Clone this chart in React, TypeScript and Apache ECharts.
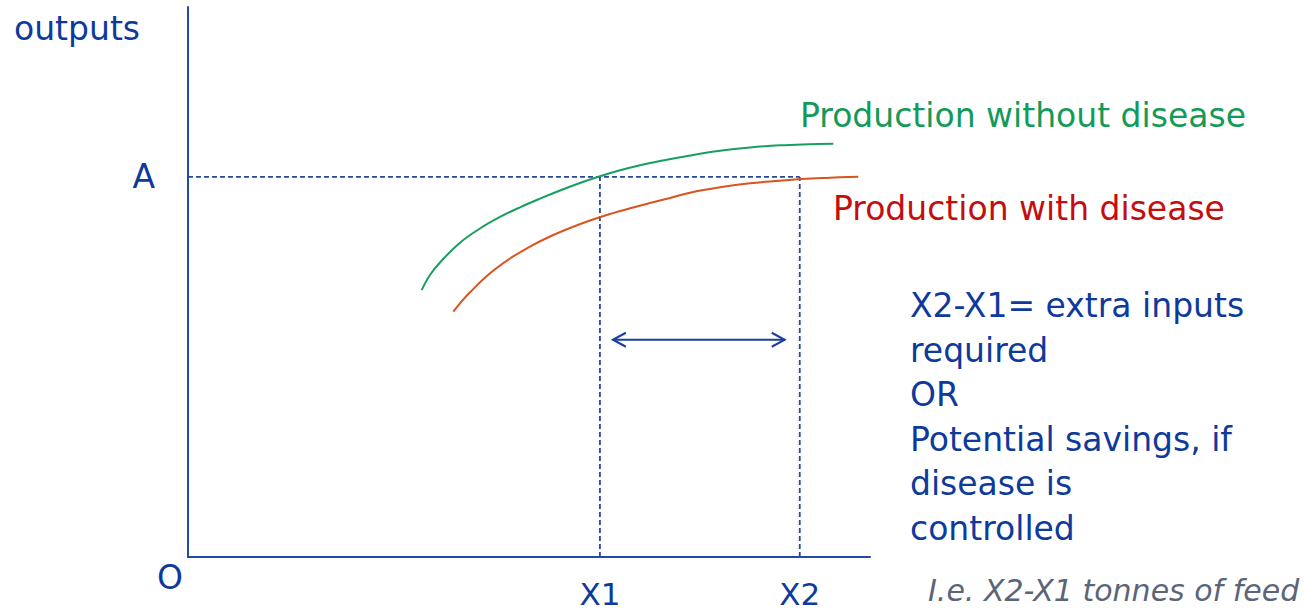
import React, { useEffect, useRef } from "react";
import * as echarts from "echarts";

// data coordinates: x 0..100, y 0..100
const greenX = [34.27, 35.48, 36.95, 39.88, 42.82, 45.75, 48.68, 51.61, 54.55, 57.48, 60.41, 63.34, 66.28, 69.21, 73.61, 78.01, 82.4, 86.8, 91.2, 94.62];
const greenY = [48.55, 51.27, 53.55, 57.15, 59.73, 61.82, 63.58, 65.16, 66.64, 68.0, 69.22, 70.31, 71.24, 72.0, 73.0, 73.85, 74.45, 74.85, 75.05, 75.15];
const redX = [38.9, 39.88, 41.35, 44.28, 47.21, 50.15, 53.08, 56.01, 58.94, 61.88, 64.81, 67.74, 70.67, 73.61, 78.01, 82.4, 86.8, 89.99, 94.13, 98.28];
const redY = [44.6, 46.13, 48.13, 51.58, 54.27, 56.45, 58.27, 59.82, 61.18, 62.36, 63.4, 64.36, 65.27, 66.24, 67.22, 67.95, 68.42, 68.73, 68.96, 69.15];
const A_LEVEL = 69.1;
const X1 = 60.4;
const X2 = 89.7;
const ARROW = { left: 62.3, right: 87.5, y: 39.5 };
const xTickLabels = ["X1", "X2"];
const yTickLabels = ["A"];
const noteLines = [
  "X2-X1= extra inputs",
  "required",
  "OR",
  "Potential savings, if",
  "disease is",
  "controlled",
];

const FONT = "'DejaVu Sans', sans-serif";
const BLUE_TEXT = "#0d3a9b";
const AXIS = "#2449ad";
const DASH = "#2446a6";
const FS = 33;

export default function App() {
  const ref = useRef<HTMLDivElement>(null);
  useEffect(() => {
    if (!ref.current) return;
    const chart = echarts.init(ref.current, null, { renderer: "svg" });
    const green = greenX.map((x, i) => [x, greenY[i]]);
    const red = redX.map((x, i) => [x, redY[i]]);
    const dashStyle = { color: DASH, width: 1.8, type: [5, 3] as any };
    chart.setOption({
      animation: false,
      grid: { left: 188, top: 7, width: 682, height: 550 },
      xAxis: {
        type: "value",
        min: 0,
        max: 100,
        splitLine: { show: false },
        axisTick: { show: false },
        axisLine: { show: true, lineStyle: { color: AXIS, width: 2 } },
        axisLabel: {
          customValues: [X1, X2],
          formatter: (v: number) => (Math.abs(v - X1) < 0.01 ? xTickLabels[0] : xTickLabels[1]),
          color: BLUE_TEXT,
          fontSize: 31,
          fontFamily: FONT,
          lineHeight: 26,
          margin: 24,
        },
      },
      yAxis: {
        type: "value",
        min: 0,
        max: 100,
        splitLine: { show: false },
        axisTick: { show: false },
        axisLine: { show: true, lineStyle: { color: AXIS, width: 2 } },
        axisLabel: {
          customValues: [A_LEVEL],
          formatter: () => yTickLabels[0],
          color: BLUE_TEXT,
          fontSize: FS,
          fontFamily: FONT,
          margin: 33,
        },
      },
      series: [
        {
          type: "line",
          data: [[0, A_LEVEL], [X2, A_LEVEL]],
          symbol: "none",
          lineStyle: dashStyle,
          silent: true,
          z: 1,
        },
        {
          type: "line",
          data: [[X1, 0], [X1, A_LEVEL]],
          symbol: "none",
          lineStyle: dashStyle,
          silent: true,
          z: 1,
        },
        {
          type: "line",
          data: [[X2, 0], [X2, A_LEVEL]],
          symbol: "none",
          lineStyle: dashStyle,
          silent: true,
          z: 1,
        },
        {
          type: "line",
          data: green,
          smooth: 0.4,
          symbol: "none",
          lineStyle: { color: "#17a05d", width: 2 },
          z: 2,
        },
        {
          type: "line",
          data: red,
          smooth: 0.4,
          symbol: "none",
          lineStyle: { color: "#d9541e", width: 2 },
          z: 2,
        },
        {
          type: "custom",
          data: [[ARROW.left, ARROW.y, ARROW.right]],
          renderItem: (params: any, api: any) => {
            const p1 = api.coord([api.value(0), api.value(1)]);
            const p2 = api.coord([api.value(2), api.value(1)]);
            const s = { stroke: "#1b3f9e", lineWidth: 2, fill: null };
            return {
              type: "group",
              children: [
                { type: "line", shape: { x1: p1[0], y1: p1[1], x2: p2[0], y2: p2[1] }, style: s },
                {
                  type: "polyline",
                  shape: { points: [[p1[0] + 13, p1[1] - 7], [p1[0], p1[1]], [p1[0] + 13, p1[1] + 7]] },
                  style: s,
                },
                {
                  type: "polyline",
                  shape: { points: [[p2[0] - 13, p2[1] - 7], [p2[0], p2[1]], [p2[0] - 13, p2[1] + 7]] },
                  style: s,
                },
              ],
            };
          },
          z: 3,
        },
      ],
      graphic: [
        {
          type: "text",
          left: 14,
          top: 12,
          style: { text: "outputs", fontSize: FS, fontFamily: FONT, fill: BLUE_TEXT },
        },
        {
          type: "text",
          left: 157,
          top: 561,
          style: { text: "O", fontSize: FS, fontFamily: FONT, fill: BLUE_TEXT },
        },
        {
          type: "text",
          left: 800,
          top: 99,
          style: { text: "Production without disease", fontSize: FS, fontFamily: FONT, fill: "#139a58" },
        },
        {
          type: "text",
          left: 833,
          top: 192,
          style: { text: "Production with disease", fontSize: FS, fontFamily: FONT, fill: "#c40d0d" },
        },
        ...noteLines.map((t, i) => ({
          type: "text",
          left: 910,
          top: 289 + i * 44.5,
          style: { text: t, fontSize: FS, fontFamily: FONT, fill: BLUE_TEXT },
        })),
        {
          type: "text",
          left: 928,
          top: 575,
          style: {
            text: "I.e. X2-X1 tonnes of feed",
            fontSize: 30,
            fontStyle: "italic",
            fontFamily: FONT,
            fill: "#5b6577",
          },
        },
      ],
    });
    return () => chart.dispose();
  }, []);
  return (
    <div
      ref={ref}
      style={{ position: "absolute", left: 0, top: 0, width: 1305, height: 611, background: "#fff" }}
    />
  );
}
